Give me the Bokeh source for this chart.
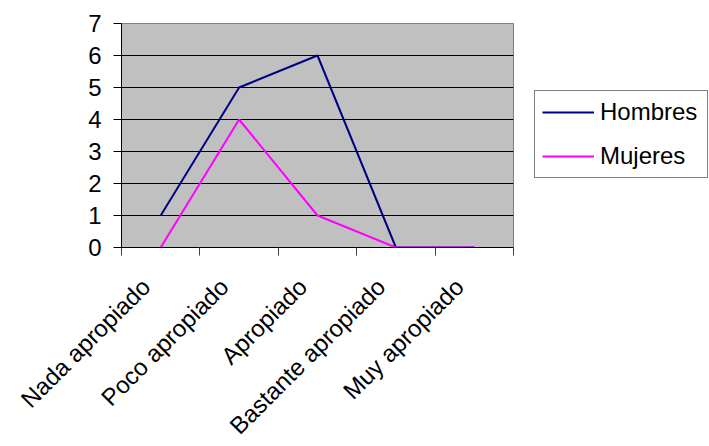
import math
from bokeh.plotting import figure
from bokeh.models import FixedTicker, Legend, LegendItem, Range1d
from bokeh.embed import file_html
from bokeh.resources import INLINE

categories = ["Nada apropiado", "Poco apropiado", "Apropiado", "Bastante apropiado", "Muy apropiado"]
hombres = [1, 5, 6, 0, 0]
mujeres = [0, 4, 1, 0, 0]
y_ticks = [0, 1, 2, 3, 4, 5, 6, 7]

xs = [i + 0.5 for i in range(len(categories))]
LABEL_SHIFT = 0.19  # rotated labels end slightly left of the category centre
label_pos = [x - LABEL_SHIFT for x in xs]

p = figure(frame_width=392, frame_height=224, output_backend="svg", toolbar_location=None,
           x_range=Range1d(0, len(categories)), y_range=Range1d(0, 7),
           min_border_left=121, min_border_top=23, min_border_right=194, min_border_bottom=199)

FONT = "Liberation Sans"
p.background_fill_color = "#C0C0C0"
p.border_fill_color = "white"
p.outline_line_color = "#808080"
p.outline_line_width = 1

# x axis
p.xaxis.ticker = FixedTicker(ticks=label_pos, minor_ticks=list(range(len(categories) + 1)))
p.xaxis.major_label_overrides = {x: c for x, c in zip(label_pos, categories)}
p.xaxis.major_label_orientation = math.pi / 4
p.xaxis.major_tick_out = 0
p.xaxis.major_tick_in = 0
p.xaxis.minor_tick_out = 8
p.xaxis.minor_tick_in = 0
p.xaxis.minor_tick_line_color = "#404040"
p.xaxis.axis_line_color = "black"
p.xaxis.major_label_text_font = FONT
p.xaxis.major_label_text_font_size = "24px"
p.xaxis.major_label_text_color = "black"
p.xaxis.major_label_standoff = 27

# y axis
p.yaxis.ticker = FixedTicker(ticks=y_ticks)
p.yaxis.major_tick_out = 8
p.yaxis.major_tick_in = 0
p.yaxis.minor_tick_line_color = None
p.yaxis.axis_line_color = "black"
p.yaxis.major_tick_line_color = "black"
p.yaxis.major_label_text_font = FONT
p.yaxis.major_label_text_font_size = "24px"
p.yaxis.major_label_text_color = "black"
p.yaxis.major_label_standoff = 12

p.xgrid.grid_line_color = None
p.ygrid.ticker = FixedTicker(ticks=[1, 2, 3, 4, 5, 6])
p.ygrid.grid_line_color = "black"
p.ygrid.grid_line_width = 1

r1 = p.line(xs, hombres, line_color="#000080", line_width=2)
r2 = p.line(xs, mujeres, line_color="#FF00FF", line_width=2)

legend = Legend(items=[LegendItem(label="Hombres", renderers=[r1]),
                       LegendItem(label="Mujeres", renderers=[r2])],
                location=(21, 69))
legend.label_text_font = FONT
legend.label_text_font_size = "24px"
legend.label_text_color = "black"
legend.glyph_width = 52
legend.label_standoff = 6
legend.label_width = 100
legend.padding = 7
legend.spacing = 16
legend.margin = 0
legend.border_line_color = "black"
legend.border_line_width = 1
legend.background_fill_color = "white"
legend.background_fill_alpha = 1
p.add_layout(legend, "right")

open("out.html", "w").write(file_html(p, INLINE))
